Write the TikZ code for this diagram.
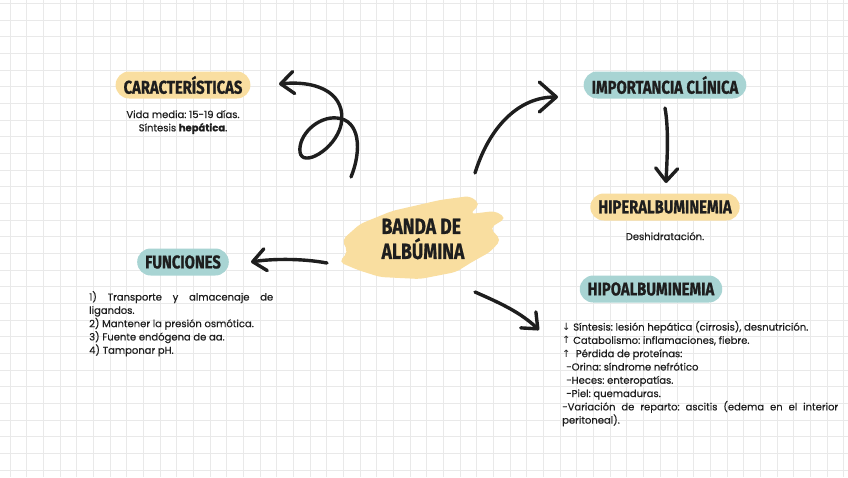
\documentclass[tikz,border=0pt]{standalone}
\usepackage{fontspec}
\setmainfont{Poppins}[FakeBold=0.5]
\newfontfamily\headfont{Fira Sans}[FakeStretch=0.8, FakeBold=0.8]
\newfontfamily\symfont{DejaVu Sans}
\usetikzlibrary{arrows.meta}
\frenchspacing

\definecolor{pillyellow}{RGB}{249,222,160}
\definecolor{pillteal}{RGB}{168,212,211}
\definecolor{gridgray}{RGB}{233,233,233}
\definecolor{ink}{RGB}{30,30,30}

\tikzset{
  heading/.style={font=\headfont\bfseries\fontsize{18.5}{21}\selectfont, text=ink,
    rounded corners=13.5pt, minimum height=27pt, inner xsep=8pt},
  headyellow/.style={heading, fill=pillyellow},
  headteal/.style={heading, fill=pillteal},
  bodytext/.style={font=\fontsize{10}{13.3}\selectfont, text=ink, inner sep=0pt},
  brusharrow/.style={draw=ink, line width=3.4pt, line cap=round, line join=round,
    -{Straight Barb[length=13pt,width=22pt,round]}},
}

\begin{document}
\begin{tikzpicture}[x=1pt, y=-1pt]
        \useasboundingbox (0,0) rectangle (848,477);
        \fill[white] (0,0) rectangle (848,477);
        % Draw the grid paper
        \foreach \i in {0,...,50}
        \draw[gridgray, line width=0.6pt] ({10+16.67*\i},0) -- ++(0,477);
        \foreach \j in {0,...,28}
        \draw[gridgray, line width=0.6pt] (0,{3.3+16.67*\j}) -- ++(848,0);
        % Draw the brush stroke behind the title
        \fill[pillyellow, rounded corners=5pt] (342,240) -- (360,224) -- (392,211)
        -- (440,200) -- (470,196) -- (480,204) -- (470,214) -- (495,211) -- (506,218)
        -- (490,228) -- (501,240) -- (490,252) -- (472,262) -- (456,272) -- (420,279)
        -- (380,277) -- (358,270) -- (339,262) -- (348,252) -- cycle;
        \node[font=\headfont\bfseries\fontsize{22}{25}\selectfont, text=ink, align=left]
        (banda) at (423,239) {BANDA DE\\ALBÚMINA};
        % Draw the headings
        \node[headyellow] (caract) at (183,85) {CARACTERÍSTICAS};
        \node[headteal] (importancia) at (665,85) {IMPORTANCIA CLÍNICA};
        \node[headyellow] (hiper) at (665,207) {HIPERALBUMINEMIA};
        \node[headteal] (hipo) at (651,289) {HIPOALBUMINEMIA};
        \node[headteal] (funciones) at (183,262) {FUNCIONES};
        % Draw the texts
        \node[bodytext, align=center, anchor=north] (caracttxt) at (183,110)
        {Vida media: 15-19 días.\\Síntesis \textbf{hepática}.};
        \node[bodytext, anchor=north] (hipertxt) at (665,232) {Deshidratación.};
        \node[bodytext, text width=184pt, align=justify, anchor=north west] (funcionestxt)
        at (89,291) {1) Transporte y almacenaje de\linebreak ligandos.\par
        2) Mantener la presión osmótica.\par
        3) Fuente endógena de aa.\par
        4) Tamponar pH.};
        \node[bodytext, text width=276pt, align=justify, anchor=north west] (hipotxt)
        at (562,321) {{\symfont↓} Síntesis: lesión hepática (cirrosis), desnutrición.\par
        {\symfont↑} Catabolismo: inflamaciones, fiebre.\par
        {\symfont↑}\ \ Pérdida de proteínas:\par
        \hspace*{4pt}-Orina: síndrome nefrótico\par
        \hspace*{4pt}-Heces: enteropatías.\par
        \hspace*{4pt}-Piel: quemaduras.\par
        -Variación de reparto: ascitis (edema en el interior\linebreak peritoneal).};
        % Draw the arrows
        \coordinate (loopS) at (351,177);
        \coordinate (loopE) at (279,84);
        \draw[brusharrow] (loopS) .. controls (362,150) and (360,120) .. (337,118)
        .. controls (318,116) and (298,135) .. (300,152)
        .. controls (302,168) and (335,150) .. (341,125)
        .. controls (347,95) and (320,80) .. (loopE);
        \coordinate (impS) at (475,173);
        \coordinate (impE) at (558,97);
        \draw[brusharrow, -{Straight Barb[length=17pt,width=30pt,round]}] (impS)
        .. controls (490,125) and (520,97) .. (impE);
        \coordinate (downS) at (665,108);
        \coordinate (downE) at (666,183);
        \draw[brusharrow] (downS) .. controls (669,130) and (667,160) .. (downE);
        \coordinate (funS) at (327,263);
        \coordinate (funE) at (251,262);
        \draw[brusharrow] (funS) .. controls (300,258) and (270,259) .. (funE);
        \coordinate (hipoS) at (475,292);
        \coordinate (hipoE) at (539,330);
        \draw[brusharrow] (hipoS) .. controls (500,303) and (520,312) .. (hipoE);
    \end{tikzpicture}
\end{document}
